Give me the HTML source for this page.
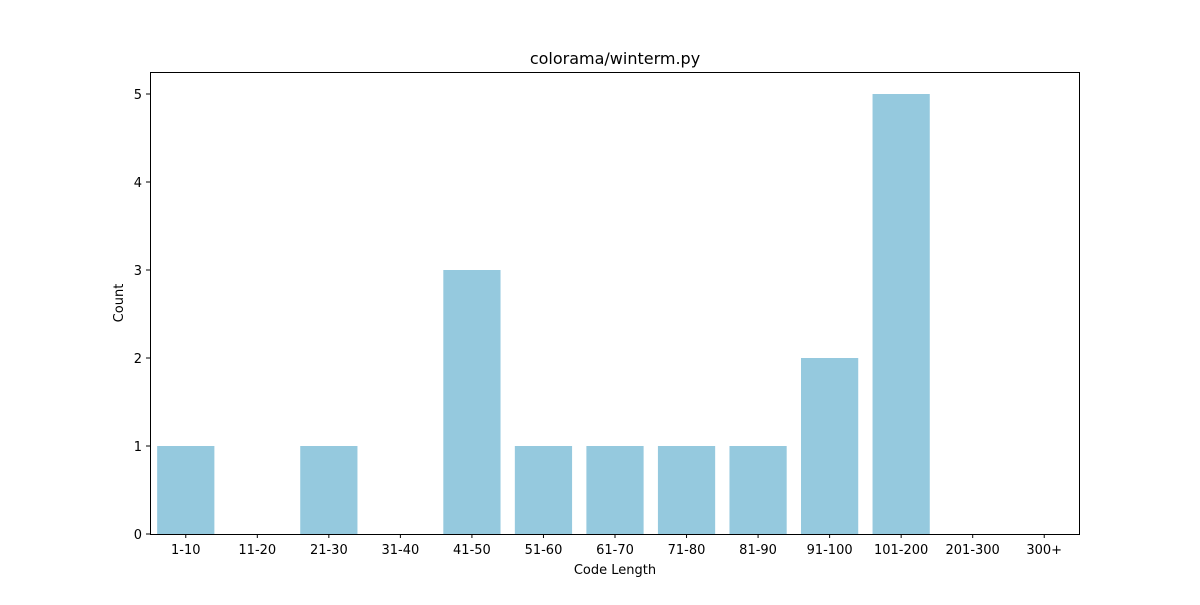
<!DOCTYPE html>
<html><head><meta charset="utf-8"><style>
body{margin:0;background:#fff;}
svg text{font-family:"DejaVu Sans","Liberation Sans",sans-serif;fill:#000;}
</style></head><body>
<svg width="1200" height="600">
<rect x="0" y="0" width="1200" height="600" fill="#fff"/>
<g id="bars"></g>
<rect x="150.5" y="72.5" width="929" height="462" fill="none" stroke="#000" stroke-width="1"/>
<g id="xt"></g>
<g id="yt"></g>
<text x="615" y="64" text-anchor="middle" font-size="16">colorama/winterm.py</text>
<text x="615" y="574" text-anchor="middle" font-size="13">Code Length</text>
<text x="123" y="303" text-anchor="middle" font-size="13" transform="rotate(-90 123 303)">Count</text>
</svg>
<script>
const categories=["1-10","11-20","21-30","31-40","41-50","51-60","61-70","71-80","81-90","91-100","101-200","201-300","300+"];
const counts=[1,0,1,0,3,1,1,1,1,2,5,0,0];
const yTicks=[0,1,2,3,4,5];
const L=150,R=1080,T=72,B=534,YMAX=5.25;
const ns="http://www.w3.org/2000/svg";
const bw=(R-L)/categories.length;
const xc=i=>L+bw*(i+0.5);
const ys=v=>B-(v/YMAX)*(B-T);
const bars=document.getElementById('bars'),xt=document.getElementById('xt'),yt=document.getElementById('yt');
function mk(t,a){const e=document.createElementNS(ns,t);for(const k in a)e.setAttribute(k,a[k]);return e;}
categories.forEach((c,i)=>{
  const v=counts[i];
  const r=mk('rect',{x:xc(i)-bw*0.4,y:ys(v),width:bw*0.8,height:B-ys(v),fill:'#95c9de'});
  
  
  bars.appendChild(r);
  const tk=mk('line',{x1:xc(i),x2:xc(i),y1:B,y2:B+4,stroke:'#000'});
  
  
  xt.appendChild(tk);
  const t=mk('text',{x:xc(i),y:B+20,'text-anchor':'middle','font-size':'13'});
  t.textContent=c;
  
  
  xt.appendChild(t);
});
yTicks.forEach(v=>{
  const tk=mk('line',{x1:L-4,x2:L,y1:ys(v),y2:ys(v),stroke:'#000'});
  
  
  yt.appendChild(tk);
  const t=mk('text',{x:L-8,y:ys(v)+5,'text-anchor':'end','font-size':'13'});
  t.textContent=v;
  
  
  yt.appendChild(t);
});
</script>
</body></html>
